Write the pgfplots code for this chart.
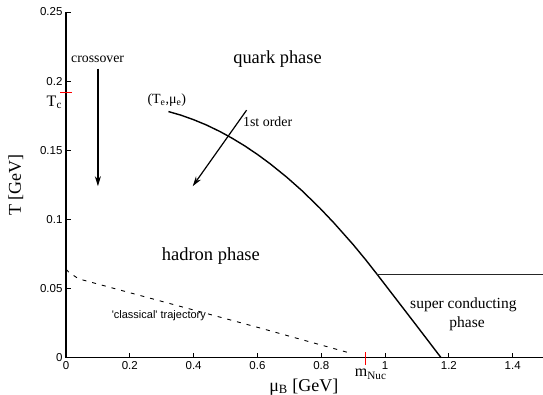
\documentclass[border=0pt]{standalone}
\usepackage{fontspec}
\setmainfont{Liberation Serif}
\newfontfamily\sansf{Liberation Sans}
\usepackage{pgfplots}
\pgfplotsset{compat=1.18}
\usetikzlibrary{arrows.meta}
\begin{document}
\begin{tikzpicture}
\useasboundingbox (-66pt,-37.3pt) rectangle (477pt,357.7pt);
\begin{axis}[
  at={(0pt,0pt)}, anchor=south west,
  scale only axis, width=478.6pt, height=345.7pt,
  xmin=0, xmax=1.5, ymin=0, ymax=0.25,
  axis x line*=bottom, axis y line*=left,
  axis line style={-, line width=1.6pt},
  tick pos=left,
  xtick={0,0.2,0.4,0.6,0.8,1,1.2,1.4},
  xticklabels={0,0.2,0.4,0.6,0.8,1,1.2,1.4},
  ytick={0,0.05,0.1,0.15,0.2,0.25},
  yticklabels={0,0.05,0.1,0.15,0.2,0.25},
  tick align=inside, major tick length=5pt,
  tick style={black, line width=0.9pt},
  ticklabel style={font=\fontsize{11.5}{12}\sansf},
  xlabel={μ\textsubscript{B} [GeV]},
  ylabel={T [GeV]},
  xlabel style={at={(axis description cs:0.497,-0.084)}, anchor=center, font=\fontsize{18}{20}\selectfont},
  ylabel style={at={(axis description cs:-0.105,0.5)}, anchor=center, font=\fontsize{18}{20}\selectfont},
  extra y ticks={0.192}, extra y tick labels={},
  extra y tick style={major tick length=11pt, tick align=center, major tick style={red, line width=1.1pt}},
  clip=false,
]
% first-order line
\addplot[black, line width=1.4pt] coordinates {
 (0.321,0.178) (0.36,0.1754) (0.40,0.1721) (0.44,0.1683) (0.483,0.1635)
 (0.52,0.1588) (0.56,0.1532) (0.60,0.1470) (0.64,0.1402) (0.692,0.1305)
 (0.74,0.1207) (0.796,0.1081) (0.84,0.0974) (0.90,0.0818) (0.94,0.0706)
 (0.975,0.0603) (1.0,0.0528) (1.05,0.0378) (1.1,0.0228) (1.1755,0)
};
% classical trajectory
\addplot[black, line width=0.9pt, dash pattern=on 4pt off 6pt] coordinates {
 (0,0.064) (0.01,0.0615) (0.04,0.057) (0.2,0.047) (0.4,0.0345) (0.6,0.022) (0.88,0.004)
};
% superconducting boundary
\addplot[black!85, line width=0.8pt] coordinates {(0.975,0.0605) (1.5,0.0605)};
% nucleon mass marker on the axis
\addplot[red, line width=1.1pt] coordinates {(0.938,-0.0051) (0.938,0.0043)};
% arrows
\addplot[black, line width=1.2pt, -{Stealth[length=10pt,width=6pt]}] coordinates {(0.1,0.209) (0.1,0.124)};
\addplot[black, line width=1.2pt, -{Stealth[length=10pt,width=6pt]}] coordinates {(0.566,0.179) (0.397,0.124)};
% annotations
\node[anchor=base, font=\fontsize{13.8}{15}\selectfont] at (axis cs:0.099,0.2134) {crossover};
\node[anchor=base, font=\fontsize{18.4}{20}\selectfont] at (axis cs:0.663,0.2129) {quark phase};
\node[anchor=base, font=\fontsize{14}{16}\selectfont] at (axis cs:0.316,0.184) {(T\textsubscript{e},μ\textsubscript{e})};
\node[anchor=base, font=\fontsize{13.9}{16}\selectfont] at (axis cs:0.632,0.167) {1st order};
\node[anchor=base, font=\fontsize{18.5}{20}\selectfont] at (axis cs:0.454,0.0703) {hadron phase};
\node[anchor=base, font=\fontsize{11}{12}\sansf] at (axis cs:0.291,0.0287) {'classical' trajectory};
\node[anchor=base, font=\fontsize{15.5}{17}\selectfont] at (axis cs:1.2455,0.0359) {super conducting};
\node[anchor=base, font=\fontsize{15.5}{17}\selectfont] at (axis cs:1.257,0.0215) {phase};
\node[anchor=base east, inner sep=0pt, font=\fontsize{16}{18}\selectfont] at (axis cs:-0.012,0.182) {T\textsubscript{c}};
\node[anchor=base, inner sep=0pt, font=\fontsize{16}{18}\selectfont] at (axis cs:0.955,-0.0139) {m\textsubscript{Nuc}};
\end{axis}
\end{tikzpicture}
\end{document}
